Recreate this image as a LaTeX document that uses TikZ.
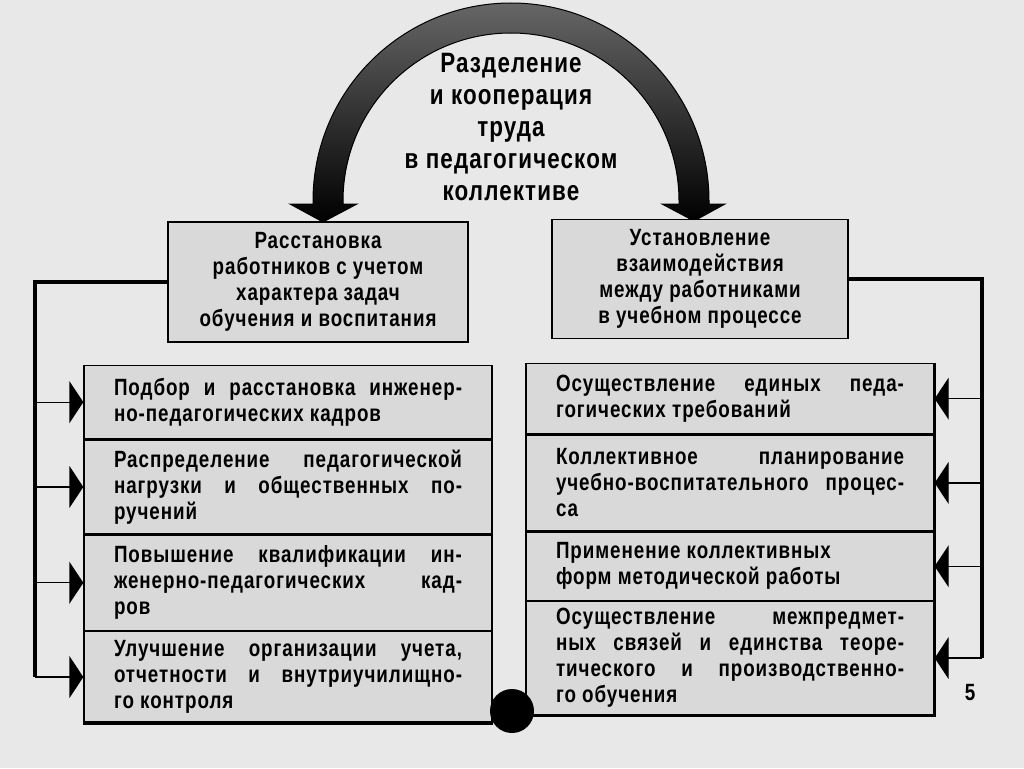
\documentclass[tikz,border=0pt]{standalone}
\usepackage{fontspec}
\setmainfont{Liberation Sans}[FakeStretch=0.8, LetterSpace=4]
\usetikzlibrary{positioning, arrows.meta}

\tikzset{
  txt/.style={font=\fontsize{23.5}{26}\selectfont\bfseries},
  headbox/.style={txt, draw, line width=1.3pt, fill=black!15, align=center,
    minimum width=300pt, minimum height=120pt, inner sep=0pt},
  item/.style={txt, draw, line width=1.3pt, fill=black!15, align=justify,
    minimum width=408pt, text width=348pt, inner sep=0pt, anchor=north},
  bus/.style={line width=4.5pt, line join=miter},
  branch/.style={line width=1.3pt, -{Triangle[length=14pt, width=42pt]}},
  knotdot/.style={circle, fill=black, minimum size=44pt, inner sep=0pt},
}

\begin{document}
\begin{tikzpicture}[x=1pt, y=-1pt]
  \fill[black!9] (0,0) rectangle (1024,768);
  \useasboundingbox (0,0) rectangle (1024,768);

  % arc with two heads
  \shade[top color=black!60, bottom color=black, draw=black, line width=1pt]
    (313,201) arc[start angle=180, end angle=360, radius=198]
    -- (709,204) -- (725,204) -- (694,221) -- (662,204) -- (679,204) -- (679,201)
    arc[start angle=360, end angle=180, radius=168]
    -- (343,204) -- (357,204) -- (323,222) -- (290,204) -- (313,204) -- cycle;
  \node[txt, font=\fontsize{28}{32}\selectfont\bfseries, align=center] (title) at (511,127)
    {Разделение\\и кооперация\\труда\\в педагогическом\\коллективе};

  \node[headbox] (lhead) at (318,282)
    {Расстановка\\работников с учетом\\характера задач\\обучения и воспитания};
  \node[headbox, minimum width=296pt, minimum height=119pt] (rhead) at (700,279)
    {Установление\\взаимодействия\\между работниками\\в учебном процессе};

  % left list
  \node[item, minimum height=73pt] (l1) at (288,365)
    {Подбор и расстановка инженер-\linebreak но-педагогических кадров};
  \node[item, minimum height=94pt, below=0pt of l1] (l2)
    {Распределение педагогической\linebreak нагрузки и общественных по-\linebreak ручений};
  \node[item, minimum height=95pt, below=0pt of l2] (l3)
    {Повышение квалификации ин-\linebreak женерно-педагогических кад-\linebreak ров};
  \node[item, minimum height=91pt, below=0pt of l3] (l4)
    {Улучшение организации учета,\linebreak отчетности и внутриучилищно-\linebreak го контроля};

  % right list
  \node[item, minimum height=70pt] (r1) at (730,363)
    {Осуществление единых педа-\linebreak гогических требований};
  \node[item, minimum height=96pt, below=0pt of r1] (r2)
    {Коллективное планирование\linebreak учебно-воспитательного процес-\linebreak са};
  \node[item, minimum height=68pt, below=0pt of r2] (r3)
    {Применение коллективных\newline форм методической работы};
  \node[item, minimum height=113pt, below=0pt of r3] (r4)
    {Осуществление межпредмет-\linebreak ных связей и единства теоре-\linebreak тического и производственно-\linebreak го обучения};

  \coordinate (lbus) at (35,0);
  \coordinate (rbus) at (982,0);

  \draw[bus] (lhead.west) -- (lhead.west -| lbus) -- (l4.west -| lbus);
  \foreach \n in {l1,l2,l3,l4}
    \draw[branch] (\n.west -| lbus) -- (\n.west);
  \draw[bus] (rhead.east) -- (rhead.east -| rbus) -- (r4.east -| rbus);
  \foreach \n in {r1,r2,r3,r4}
    \draw[branch] (\n.east -| rbus) -- (\n.east);

  \draw[bus] (l4.south west) -- (l4.south east);
  \draw[line width=3pt] (r4.south west) -- (r4.south east) -- (r1.north east);
  \node[knotdot] (knot) at (512,711) {};

  \node[txt] (pnum) at (970,693) {5};
\end{tikzpicture}
\end{document}
